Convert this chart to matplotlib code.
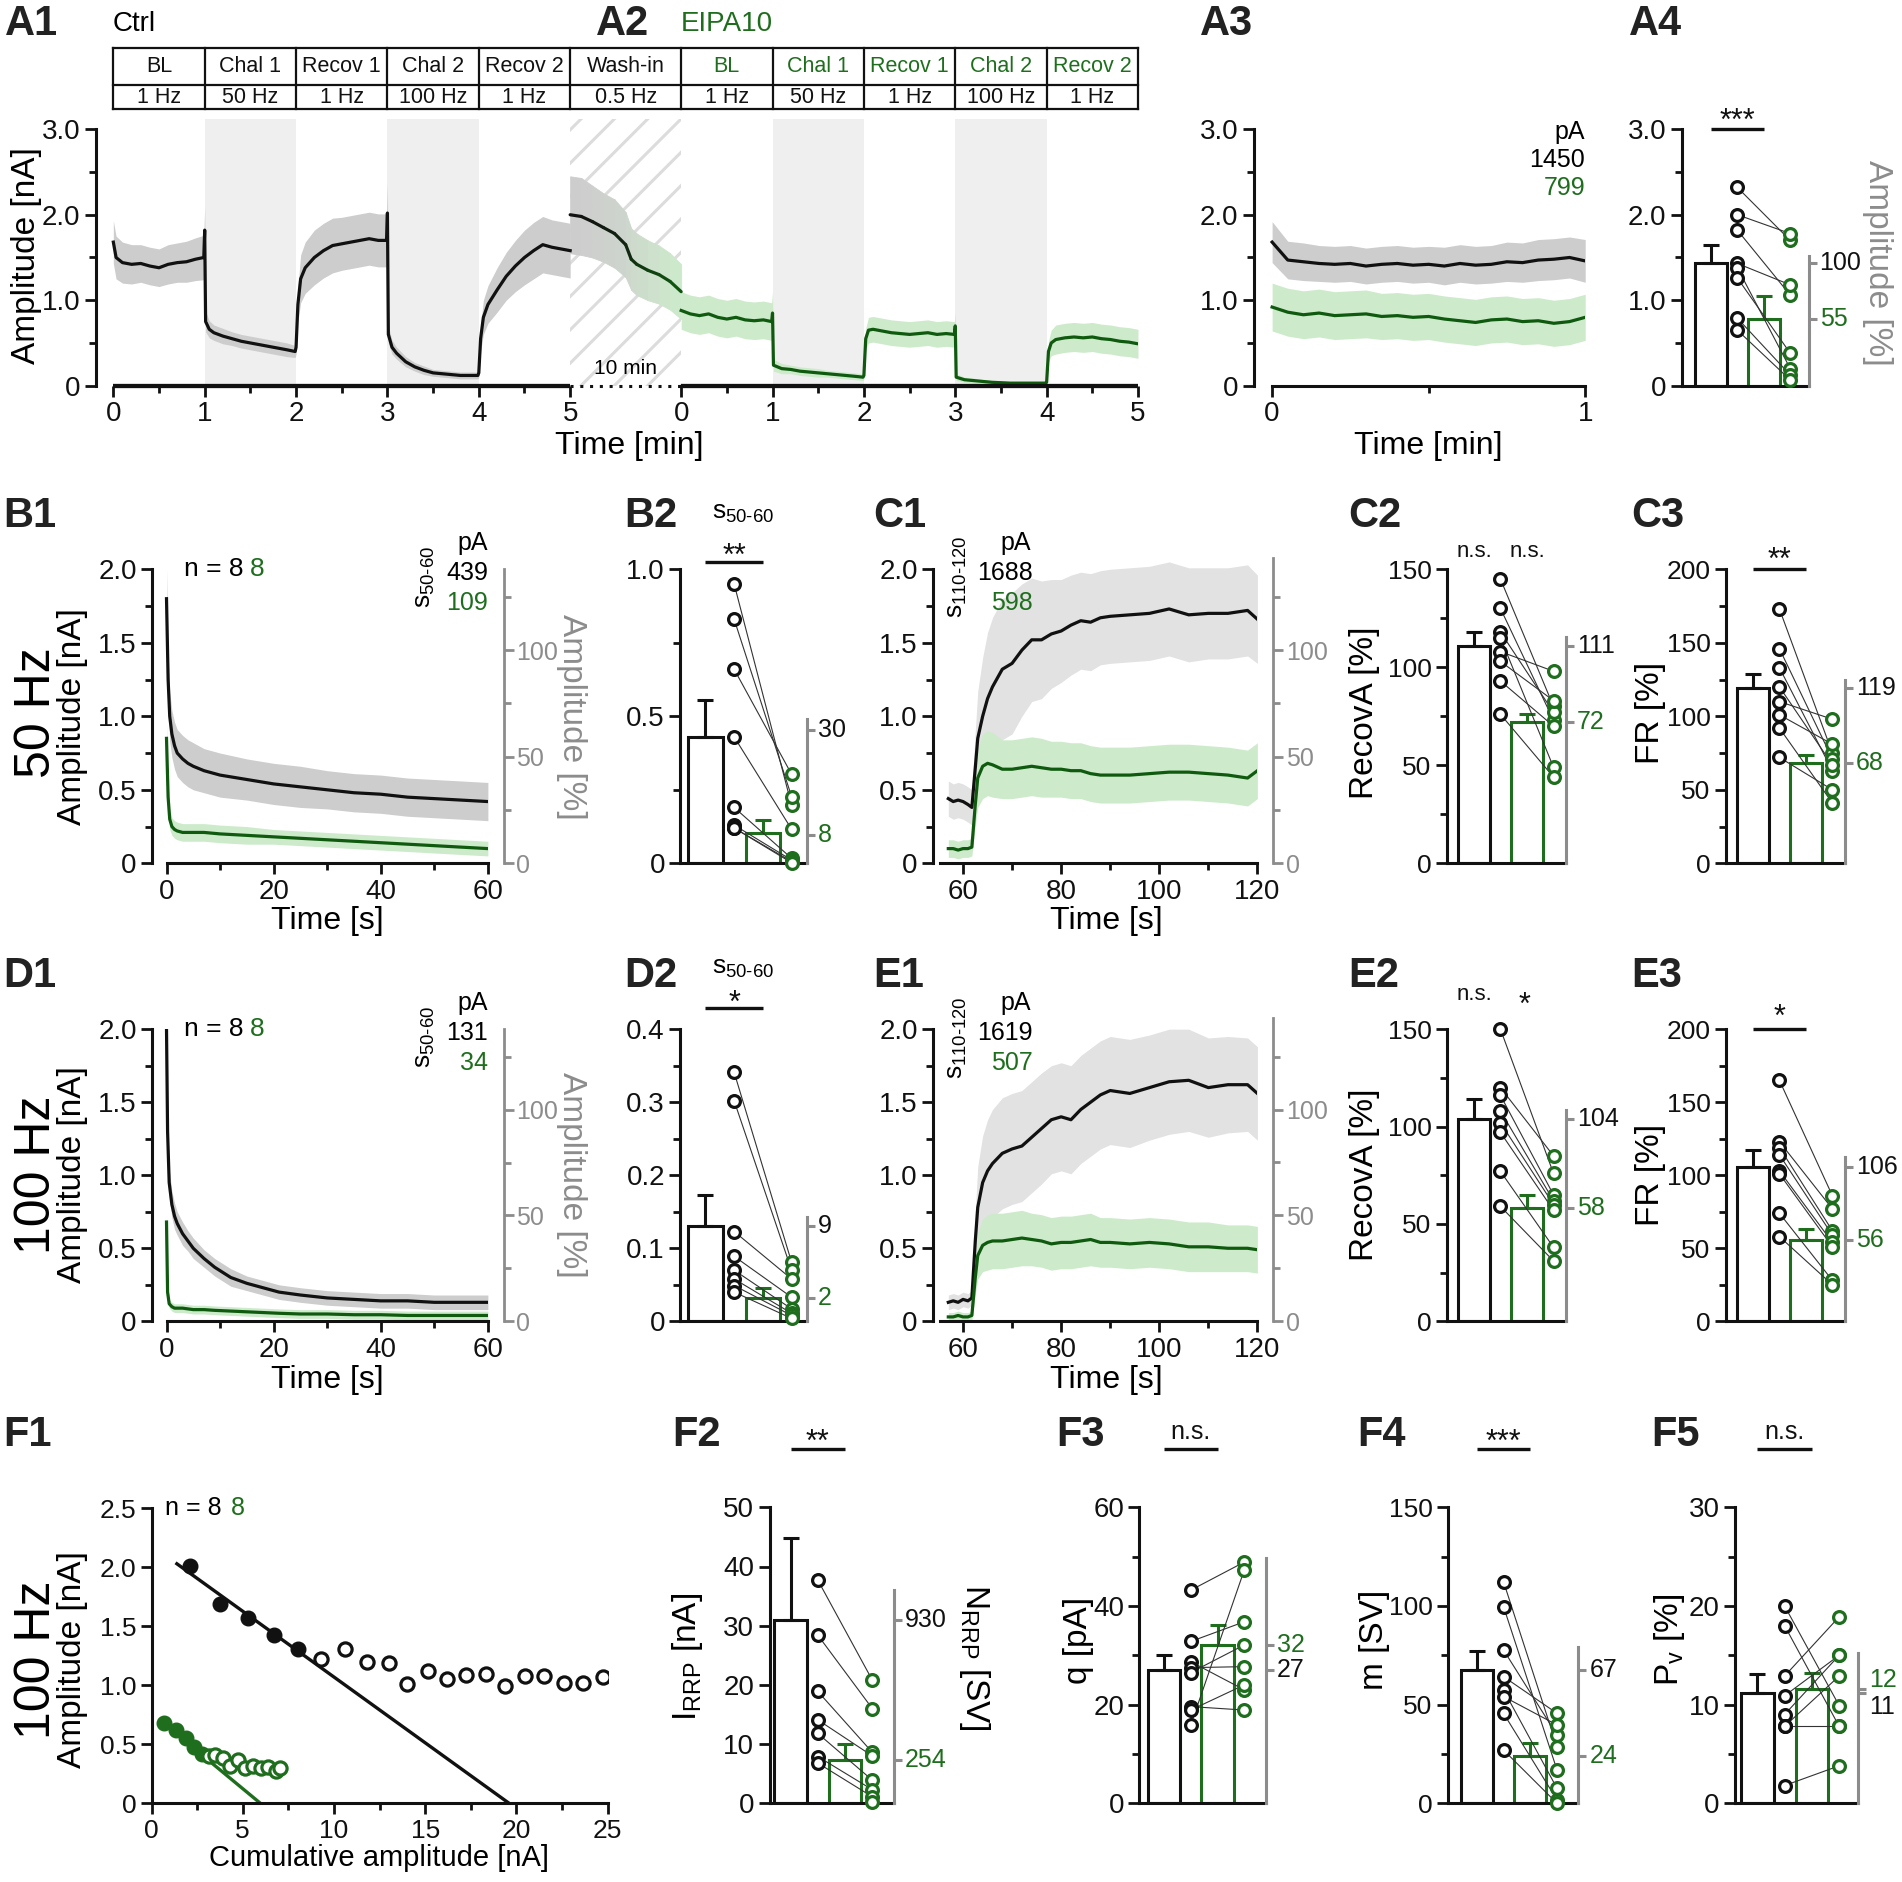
import numpy as np
import matplotlib
matplotlib.use('Agg')
import matplotlib.pyplot as plt
import matplotlib.transforms as mtransforms
from matplotlib.colors import to_rgb

W, H, DPI = 1902, 1882, 100

# ============================ DATA ============================
BASELINE_NA = 1.45          # ctrl baseline amplitude (1450 pA) = 100 %

# ---- A1 / A2 : full protocol time course (min, nA) ----
A1_CTRL_T = [0, 0.03, 0.1, 0.2, 0.3, 0.4, 0.5, 0.6, 0.7, 0.8, 0.9, 0.99,
             1.0, 1.01, 1.05, 1.1, 1.2, 1.3, 1.4, 1.5, 1.6, 1.7, 1.8, 1.9, 1.99,
             2.0, 2.02, 2.05, 2.1, 2.2, 2.3, 2.4, 2.5, 2.6, 2.7, 2.8, 2.9, 2.99,
             3.0, 3.01, 3.05, 3.1, 3.2, 3.3, 3.4, 3.5, 3.6, 3.7, 3.8, 3.9, 3.99,
             4.0, 4.02, 4.05, 4.1, 4.2, 4.3, 4.4, 4.5, 4.6, 4.7, 4.8, 4.9, 5.0]
A1_CTRL_M = [1.68, 1.50, 1.44, 1.42, 1.43, 1.40, 1.38, 1.42, 1.44, 1.45, 1.48, 1.50,
             1.82, 0.75, 0.66, 0.62, 0.58, 0.55, 0.52, 0.50, 0.48, 0.46, 0.44, 0.42, 0.40,
             0.45, 0.95, 1.25, 1.38, 1.50, 1.58, 1.64, 1.66, 1.68, 1.70, 1.72, 1.70, 1.70,
             2.02, 0.60, 0.45, 0.38, 0.28, 0.22, 0.18, 0.15, 0.14, 0.13, 0.12, 0.12, 0.12,
             0.15, 0.55, 0.80, 0.95, 1.12, 1.28, 1.40, 1.50, 1.58, 1.65, 1.62, 1.60, 1.58]
A1_CTRL_S = [0.25, 0.25, 0.24, 0.23, 0.22, 0.22, 0.22, 0.23, 0.23, 0.24, 0.25, 0.26,
             0.28, 0.12, 0.10, 0.09, 0.09, 0.08, 0.08, 0.08, 0.08, 0.08, 0.08, 0.08, 0.07,
             0.08, 0.20, 0.28, 0.30, 0.32, 0.32, 0.32, 0.31, 0.31, 0.31, 0.31, 0.31, 0.31,
             0.35, 0.10, 0.08, 0.07, 0.06, 0.05, 0.05, 0.04, 0.04, 0.04, 0.04, 0.04, 0.04,
             0.05, 0.15, 0.20, 0.22, 0.26, 0.28, 0.30, 0.32, 0.33, 0.33, 0.32, 0.32, 0.32]

WASH_T = [0, 1, 2, 3, 4, 5, 5.5, 6, 7, 8, 9, 10]          # min of the 10 min wash-in
WASH_M = [2.00, 1.98, 1.92, 1.85, 1.78, 1.65, 1.48, 1.42, 1.35, 1.30, 1.22, 1.10]
WASH_S = [0.45, 0.45, 0.42, 0.40, 0.40, 0.38, 0.36, 0.36, 0.35, 0.34, 0.33, 0.32]
WASH_MIN = 10

A2_EIPA_T = [0, 0.1, 0.2, 0.3, 0.4, 0.5, 0.6, 0.7, 0.8, 0.9, 0.99,
             1.0, 1.01, 1.1, 1.2, 1.3, 1.4, 1.5, 1.6, 1.7, 1.8, 1.9, 1.99,
             2.0, 2.02, 2.05, 2.1, 2.2, 2.3, 2.4, 2.5, 2.6, 2.7, 2.8, 2.9, 2.99,
             3.0, 3.01, 3.1, 3.2, 3.3, 3.4, 3.6, 3.8, 3.99,
             4.0, 4.02, 4.05, 4.1, 4.2, 4.3, 4.4, 4.5, 4.6, 4.7, 4.8, 4.9, 5.0]
A2_EIPA_M = [0.88, 0.84, 0.82, 0.84, 0.80, 0.78, 0.80, 0.77, 0.76, 0.77, 0.75,
             0.85, 0.24, 0.20, 0.19, 0.17, 0.16, 0.15, 0.14, 0.13, 0.12, 0.11, 0.10,
             0.12, 0.55, 0.65, 0.66, 0.64, 0.62, 0.61, 0.60, 0.61, 0.62, 0.60, 0.61, 0.60,
             0.70, 0.10, 0.07, 0.06, 0.05, 0.04, 0.03, 0.03, 0.03,
             0.04, 0.40, 0.50, 0.54, 0.56, 0.57, 0.56, 0.57, 0.55, 0.54, 0.52, 0.51, 0.49]
A2_EIPA_S = [0.22, 0.22, 0.22, 0.22, 0.22, 0.22, 0.22, 0.22, 0.22, 0.22, 0.22,
             0.25, 0.07, 0.06, 0.05, 0.05, 0.05, 0.05, 0.04, 0.04, 0.04, 0.04, 0.04,
             0.04, 0.12, 0.15, 0.15, 0.15, 0.15, 0.15, 0.15, 0.15, 0.15, 0.15, 0.15, 0.15,
             0.15, 0.04, 0.03, 0.03, 0.02, 0.02, 0.02, 0.02, 0.02,
             0.02, 0.12, 0.15, 0.17, 0.17, 0.17, 0.17, 0.17, 0.17, 0.17, 0.17, 0.17, 0.17]

TABLE_TOP = ['BL', 'Chal 1', 'Recov 1', 'Chal 2', 'Recov 2', 'Wash-in',
             'BL', 'Chal 1', 'Recov 1', 'Chal 2', 'Recov 2']
TABLE_BOT = ['1 Hz', '50 Hz', '1 Hz', '100 Hz', '1 Hz', '0.5 Hz',
             '1 Hz', '50 Hz', '1 Hz', '100 Hz', '1 Hz']
CHAL_PERIODS = [(1, 2), (3, 4)]

# ---- A3 : baseline (min, nA) ----
A3_T = [0, 0.05, 0.1, 0.15, 0.2, 0.25, 0.3, 0.35, 0.4, 0.45, 0.5,
        0.55, 0.6, 0.65, 0.7, 0.75, 0.8, 0.85, 0.9, 0.95, 1.0]
A3_CTRL_M = [1.68, 1.47, 1.45, 1.43, 1.42, 1.43, 1.40, 1.42, 1.43, 1.41, 1.42,
             1.40, 1.43, 1.41, 1.42, 1.45, 1.44, 1.47, 1.48, 1.50, 1.46]
A3_CTRL_S = [0.24, 0.22, 0.22, 0.21, 0.21, 0.21, 0.21, 0.21, 0.21, 0.21, 0.21,
             0.22, 0.22, 0.22, 0.22, 0.23, 0.23, 0.24, 0.24, 0.24, 0.25]
A3_EIPA_M = [0.92, 0.86, 0.83, 0.85, 0.82, 0.83, 0.84, 0.81, 0.82, 0.80, 0.81,
             0.78, 0.76, 0.74, 0.77, 0.78, 0.75, 0.76, 0.73, 0.75, 0.80]
A3_EIPA_S = [0.28, 0.28, 0.28, 0.28, 0.28, 0.28, 0.28, 0.27, 0.27, 0.27, 0.27,
             0.27, 0.27, 0.27, 0.27, 0.27, 0.27, 0.27, 0.27, 0.27, 0.27]

# ---- A4 : baseline amplitude (nA) ----
A4_CTRL = [2.32, 2.00, 1.82, 1.43, 1.38, 1.26, 0.79, 0.65]
A4_EIPA = [1.70, 1.78, 1.06, 1.18, 0.20, 0.38, 0.125, 0.067]
A4_BAR = [1.43, 0.78]
A4_SEM = [0.22, 0.27]

# ---- B1 / D1 : challenge trains (s, nA) ----
B1_T = [0, 0.3, 0.6, 1, 1.5, 2, 3, 4, 5, 7, 10, 15, 20, 25, 30, 35, 40, 45, 50, 55, 60]
B1_CTRL_M = [1.80, 1.25, 1.00, 0.88, 0.80, 0.75, 0.71, 0.68, 0.66, 0.63, 0.60,
             0.57, 0.54, 0.52, 0.50, 0.48, 0.47, 0.45, 0.44, 0.43, 0.42]
B1_CTRL_S = [0.20, 0.18, 0.17, 0.16, 0.16, 0.16, 0.16, 0.16, 0.16, 0.15, 0.15,
             0.14, 0.14, 0.14, 0.13, 0.13, 0.13, 0.13, 0.13, 0.13, 0.13]
B1_EIPA_M = [0.85, 0.45, 0.30, 0.25, 0.23, 0.22, 0.21, 0.21, 0.21, 0.21, 0.20,
             0.19, 0.18, 0.17, 0.16, 0.15, 0.14, 0.13, 0.12, 0.11, 0.10]
B1_EIPA_S = [0.10, 0.08, 0.07, 0.06, 0.06, 0.06, 0.06, 0.06, 0.06, 0.06, 0.06,
             0.06, 0.05, 0.05, 0.05, 0.05, 0.05, 0.05, 0.05, 0.05, 0.05]

D1_T = [0, 0.2, 0.5, 1, 1.5, 2, 3, 4, 5, 7, 9, 12, 15, 18, 21, 25, 30, 35, 40, 45, 50, 55, 60]
D1_CTRL_M = [2.00, 1.30, 0.95, 0.80, 0.72, 0.67, 0.60, 0.55, 0.50, 0.43, 0.37, 0.30,
             0.26, 0.23, 0.20, 0.18, 0.16, 0.15, 0.14, 0.14, 0.13, 0.13, 0.13]
D1_CTRL_S = [0.10, 0.10, 0.10, 0.09, 0.09, 0.08, 0.08, 0.07, 0.07, 0.06, 0.06, 0.06,
             0.05, 0.05, 0.05, 0.05, 0.05, 0.05, 0.05, 0.05, 0.05, 0.05, 0.05]
D1_EIPA_M = [0.68, 0.20, 0.12, 0.10, 0.09, 0.09, 0.09, 0.085, 0.08, 0.08, 0.075, 0.07,
             0.065, 0.06, 0.055, 0.05, 0.05, 0.045, 0.045, 0.04, 0.04, 0.04, 0.04]
D1_EIPA_S = [0.04, 0.03, 0.03, 0.03, 0.03, 0.03, 0.03, 0.03, 0.03, 0.03, 0.03, 0.03,
             0.03, 0.03, 0.03, 0.03, 0.03, 0.03, 0.03, 0.03, 0.03, 0.03, 0.03]

# ---- C1 / E1 : recovery (s, nA) ----
REC_T = [57, 58, 59, 60, 61, 61.8, 62.5, 63, 64, 65, 66, 68, 70, 72, 74, 76, 78, 80,
         82, 84, 86, 88, 90, 94, 98, 102, 106, 110, 114, 118, 120]
C1_CTRL_M = [0.44, 0.42, 0.43, 0.42, 0.40, 0.38, 0.65, 0.85, 1.00, 1.12, 1.20, 1.32, 1.36,
             1.45, 1.52, 1.52, 1.56, 1.58, 1.62, 1.65, 1.64, 1.67, 1.68, 1.69, 1.70, 1.73,
             1.69, 1.70, 1.70, 1.72, 1.66]
C1_CTRL_S = [0.12, 0.12, 0.12, 0.12, 0.12, 0.12, 0.25, 0.32, 0.40, 0.45, 0.47, 0.48, 0.48,
             0.45, 0.42, 0.40, 0.37, 0.35, 0.34, 0.33, 0.33, 0.32, 0.32, 0.32, 0.32, 0.32,
             0.32, 0.31, 0.31, 0.31, 0.30]
C1_EIPA_M = [0.10, 0.10, 0.09, 0.10, 0.10, 0.11, 0.40, 0.58, 0.66, 0.68, 0.67, 0.64, 0.64,
             0.65, 0.66, 0.65, 0.64, 0.64, 0.63, 0.63, 0.61, 0.60, 0.60, 0.60, 0.61, 0.62,
             0.62, 0.61, 0.60, 0.58, 0.63]
C1_EIPA_S = [0.06, 0.06, 0.06, 0.06, 0.06, 0.06, 0.15, 0.20, 0.22, 0.22, 0.22, 0.20, 0.20,
             0.20, 0.20, 0.20, 0.19, 0.19, 0.19, 0.19, 0.19, 0.19, 0.19, 0.19, 0.19, 0.19,
             0.19, 0.19, 0.19, 0.19, 0.19]
E1_CTRL_M = [0.13, 0.14, 0.13, 0.15, 0.14, 0.16, 0.55, 0.78, 0.95, 1.03, 1.08, 1.15, 1.18,
             1.20, 1.26, 1.32, 1.38, 1.40, 1.38, 1.45, 1.50, 1.55, 1.58, 1.56, 1.60, 1.64,
             1.65, 1.60, 1.62, 1.62, 1.56]
E1_CTRL_S = [0.05, 0.05, 0.05, 0.05, 0.05, 0.05, 0.20, 0.28, 0.32, 0.35, 0.37, 0.38, 0.38,
             0.38, 0.38, 0.38, 0.37, 0.37, 0.37, 0.37, 0.37, 0.37, 0.37, 0.37, 0.36, 0.36,
             0.35, 0.34, 0.33, 0.32, 0.32]
E1_EIPA_M = [0.03, 0.03, 0.04, 0.03, 0.03, 0.04, 0.30, 0.45, 0.52, 0.54, 0.55, 0.55, 0.56,
             0.57, 0.56, 0.55, 0.53, 0.54, 0.54, 0.55, 0.56, 0.54, 0.54, 0.53, 0.54, 0.53,
             0.51, 0.51, 0.50, 0.50, 0.49]
E1_EIPA_S = [0.03, 0.03, 0.03, 0.03, 0.03, 0.03, 0.12, 0.16, 0.18, 0.19, 0.19, 0.19, 0.19,
             0.19, 0.18, 0.18, 0.18, 0.18, 0.18, 0.18, 0.18, 0.17, 0.17, 0.17, 0.17, 0.17,
             0.17, 0.17, 0.16, 0.16, 0.16]

# ---- bar panels: individual cells (ctrl -> EIPA pairs), bar = mean, sem ----
B2_CTRL = [0.95, 0.83, 0.66, 0.43, 0.19, 0.13, 0.12, 0.12]
B2_EIPA = [0.198, 0.227, 0.303, 0.116, 0.017, 0.011, 0.006, 0.002]
B2_BAR, B2_SEM = [0.431, 0.102], [0.125, 0.045]
C2_CTRL = [145, 130, 118, 115, 108, 103, 93, 76]
C2_EIPA = [80, 73, 77, 49, 98, 83, 70, 44]
C2_BAR, C2_SEM = [111, 72], [7, 4]
C3_CTRL = [173, 146, 133, 120, 110, 101, 92, 72]
C3_EIPA = [75, 71, 63, 67, 98, 81, 41, 50]
C3_BAR, C3_SEM = [119, 68], [10, 6]
D2_CTRL = [0.341, 0.302, 0.123, 0.089, 0.070, 0.058, 0.049, 0.040]
D2_EIPA = [0.081, 0.070, 0.058, 0.033, 0.017, 0.011, 0.008, 0.004]
D2_BAR, D2_SEM = [0.130, 0.032], [0.043, 0.013]
E2_CTRL = [150, 120, 116, 108, 102, 97, 77, 59]
E2_EIPA = [76, 85, 65, 62, 60, 57, 38, 31]
E2_BAR, E2_SEM = [104, 58], [10, 7]
E3_CTRL = [165, 123, 119, 114, 103, 101, 74, 58]
E3_EIPA = [86, 77, 62, 59, 54, 51, 28, 25]
E3_BAR, E3_SEM = [106, 56], [11, 7]
F2_CTRL = [37.7, 28.4, 18.9, 14.1, 11.8, 7.9, 6.8]
F2_EIPA = [20.8, 16.0, 8.6, 8.0, 3.9, 2.3, 1.1, 0.2]
F2_BAR, F2_SEM = [31.0, 7.3], [13.8, 2.8]
F3_CTRL = [43.2, 32.8, 28.7, 27.5, 26.5, 19.6, 18.9, 15.9]
F3_EIPA = [48.9, 36.8, 23.0, 27.7, 32.1, 18.9, 24.0, 47.3]
F3_BAR, F3_SEM = [27.0, 32.1], [3.0, 4.0]
F4_CTRL = [112.3, 99.7, 77.7, 64.2, 57.4, 54.1, 45.6, 27.0]
F4_EIPA = [28.7, 16.9, 34.6, 45.6, 7.6, 39.7, 1.7, 0.0]
F4_BAR, F4_SEM = [67.5, 24.0], [9.9, 6.4]
F5_CTRL = [20.0, 18.0, 12.9, 10.9, 9.0, 7.8, 7.8, 1.8]
F5_EIPA = [9.9, 7.8, 18.9, 15.0, 15.0, 12.9, 7.8, 3.8]
F5_BAR, F5_SEM = [11.15, 11.55], [1.95, 1.65]

# ---- F1 : back-extrapolation (cumulative nA vs nA) ----
F1_CTRL_FIT_X = [2.09, 3.75, 5.31, 6.71, 8.03]
F1_CTRL_FIT_Y = [2.01, 1.69, 1.57, 1.43, 1.31]
F1_CTRL_X = [9.3, 10.62, 11.79, 13.0, 14.0, 15.14, 16.2, 17.26, 18.33, 19.36,
             20.45, 21.5, 22.58, 23.64, 24.73]
F1_CTRL_Y = [1.22, 1.31, 1.20, 1.19, 1.01, 1.12, 1.05, 1.09, 1.10, 0.99,
             1.08, 1.08, 1.02, 1.02, 1.07]
F1_EIPA_FIT_X = [0.66, 1.33, 1.89, 2.32, 2.76]
F1_EIPA_FIT_Y = [0.68, 0.62, 0.55, 0.48, 0.42]
F1_EIPA_X = [3.15, 3.49, 3.92, 4.32, 4.75, 5.15, 5.58, 5.98, 6.41, 6.81, 7.04]
F1_EIPA_Y = [0.40, 0.41, 0.38, 0.32, 0.37, 0.30, 0.32, 0.30, 0.31, 0.27, 0.30]
F1_CTRL_LINE = (-0.1115, 2.185, 1.39)   # slope, intercept, start x
F1_EIPA_LINE = (-0.128, 0.764, 0.66)

# ============================ STYLE ============================
plt.rcParams['font.family'] = ['Liberation Sans', 'DejaVu Sans']
plt.rcParams['mathtext.fontset'] = 'custom'
plt.rcParams['mathtext.rm'] = 'Liberation Sans'
plt.rcParams['mathtext.it'] = 'Liberation Sans:italic'
plt.rcParams['mathtext.bf'] = 'Liberation Sans:bold'
plt.rcParams['hatch.linewidth'] = 2.2

BLACK = '#111111'
GREEN = '#1e6e1e'
GREEN_LINE = '#0f5a0f'
GREEN_BAND = '#cdebcb'
GRAY_BAND = '#cdcdcd'
GRAY_BAND2 = '#e2e2e2'
SHADE = '#efefef'
AXGRAY = '#8c8c8c'
SPINE_LW = 2.2
TICK_FS = 20
LABEL_FS = 24
PANEL_FS = 30
TRACE_LW = 2.3
AST_FS = 22

fig = plt.figure(figsize=(W / DPI, H / DPI), dpi=DPI)


def ftext(x, y, s, **kw):
    kw.setdefault('ha', 'center')
    kw.setdefault('va', 'center')
    return fig.text(x / W, 1 - y / H, s, **kw)


def panel(x, y, s):
    ftext(x, y, s, ha='left', fontsize=PANEL_FS, fontweight='bold', color='#222222')


def add_ax(x0, x1, ytop, ybot, tick_fs=TICK_FS):
    ax = fig.add_axes([x0 / W, 1 - ybot / H, (x1 - x0) / W, (ybot - ytop) / H])
    ax.patch.set_alpha(0)
    for s in ('top', 'right'):
        ax.spines[s].set_visible(False)
    for s in ('left', 'bottom'):
        ax.spines[s].set_linewidth(SPINE_LW)
        ax.spines[s].set_color(BLACK)
    ax.tick_params(which='major', length=8, width=2, labelsize=tick_fs, colors=BLACK, pad=3)
    ax.tick_params(which='minor', length=5, width=2, colors=BLACK)
    return ax


def trace(ax, t, m, s, lc, bc, lw=TRACE_LW):
    t, m, s = np.asarray(t, float), np.asarray(m, float), np.asarray(s, float)
    ax.fill_between(t, m - s, m + s, color=bc, lw=0, zorder=1)
    ax.plot(t, m, color=lc, lw=lw, zorder=3, solid_joinstyle='round')


def set_yticks(ax, ticks, labels, minor=None):
    ax.set_yticks(ticks)
    ax.set_yticklabels(labels)
    if minor is not None:
        ax.set_yticks(minor, minor=True)


def pct_axis(ax, top_na):
    ax2 = ax.twinx()
    lo, hi = ax.get_ylim()
    ax2.set_ylim(lo / BASELINE_NA * 100, hi / BASELINE_NA * 100)
    for s in ('top', 'left', 'bottom'):
        ax2.spines[s].set_visible(False)
    sp = ax2.spines['right']
    sp.set_position(('outward', 11.5))
    sp.set_bounds(0, top_na / BASELINE_NA * 100)
    sp.set_color(AXGRAY)
    sp.set_linewidth(2)
    ax2.set_yticks([0, 50, 100])
    ax2.set_yticklabels(['0', '50', '100'])
    ax2.set_yticks([25, 75, 125], minor=True)
    ax2.tick_params(which='major', length=7, width=2, colors=AXGRAY, labelsize=18, pad=2)
    ax2.tick_params(which='minor', length=5, width=2, colors=AXGRAY)
    return ax2


def sig(ax, text, y_line, y_text, fs=AST_FS, line=True, xs=(0.5,)):
    tr = mtransforms.blended_transform_factory(ax.transData, fig.transFigure)
    if line:
        ax.plot([0, 1], [1 - y_line / H] * 2, transform=tr, color=BLACK, lw=2.4,
                clip_on=False, solid_capstyle='butt')
    for xv in xs:
        ax.text(xv, 1 - y_text / H, text, transform=tr, ha='center', va='center',
                fontsize=fs, color=BLACK)


def bar_panel(px, xlim, ylim, ticks, labels, minor, ctrl, eipa, bar, sem,
              right_top, right_ticks, right_labels, right_colors, right_dy=(0, 0),
              tick_fs=TICK_FS):
    ax = add_ax(*px, tick_fs=tick_fs)
    ax.set_xlim(*xlim)
    ax.set_ylim(*ylim)
    ax.spines['left'].set_bounds(0, ticks[-1])
    ax.set_xticks([])
    set_yticks(ax, ticks, labels, minor)
    ax.bar([0], [bar[0]], width=0.6, facecolor='white', edgecolor=BLACK, lw=2.2, zorder=2)
    ax.bar([1], [bar[1]], width=0.6, facecolor='none', edgecolor=GREEN, lw=2.2, zorder=2)
    ax.errorbar([0], [bar[0]], yerr=[[0], [sem[0]]], color=BLACK, lw=2.2, capsize=6,
                capthick=2.2, zorder=2)
    ax.errorbar([1], [bar[1]], yerr=[[0], [sem[1]]], color=GREEN, lw=2.2, capsize=6,
                capthick=2.2, zorder=2)
    for c, g in zip(ctrl, eipa):
        ax.plot([0.5, 1.5], [c, g], color='#333333', lw=0.8, zorder=3)
    ax.plot(np.full(len(ctrl), 0.5), ctrl, 'o', ms=8.5, mfc='white', mec=BLACK, mew=2.3,
            zorder=4, clip_on=False, ls='none')
    ax.plot(np.full(len(eipa), 1.5), eipa, 'o', ms=8.5, mfc='white', mec=GREEN, mew=2.3,
            zorder=4, clip_on=False, ls='none')
    ax2 = ax.twinx()
    ax2.set_ylim(*ylim)
    for s in ('top', 'left', 'bottom'):
        ax2.spines[s].set_visible(False)
    sp = ax2.spines['right']
    sp.set_bounds(0, right_top)
    sp.set_color(AXGRAY)
    sp.set_linewidth(2.2)
    ax2.set_yticks(right_ticks)
    ax2.set_yticklabels([])
    ax2.tick_params(length=6, width=2.2, colors=AXGRAY)
    for v, l, c, d in zip(right_ticks, right_labels, right_colors, right_dy):
        ax2.annotate(l, xy=(1, v), xycoords=('axes fraction', 'data'), xytext=(8, d),
                     textcoords='offset points', ha='left', va='center', color=c, fontsize=18)
    return ax


# ============================ ROW A ============================
GAP = 1.215                      # width of the 10-min wash-in gap in axis units
A2_OFF = 5 + GAP
axA = add_ax(95.7, 1138, 118.6, 385.7)
axA.set_xlim(-0.193, A2_OFF + 5)
axA.set_ylim(0, 3.125)
axA.spines['left'].set_bounds(0, 3)
axA.spines['bottom'].set_visible(False)
for a, b in CHAL_PERIODS:
    axA.axvspan(a, b, color=SHADE, lw=0, zorder=0)
    axA.axvspan(A2_OFF + a, A2_OFF + b, color=SHADE, lw=0, zorder=0)
axA.axvspan(5, A2_OFF, facecolor='none', edgecolor='#dcdcdc', hatch='/', lw=0, zorder=0)

trace(axA, A1_CTRL_T, A1_CTRL_M, A1_CTRL_S, BLACK, GRAY_BAND)
trace(axA, np.asarray(A2_EIPA_T) + A2_OFF, A2_EIPA_M, A2_EIPA_S, GREEN_LINE, GREEN_BAND)

# wash-in: colour fades from ctrl (gray/black) to EIPA (green)
xw = 5 + np.asarray(WASH_T, float) / WASH_MIN * GAP
mw, sw = np.asarray(WASH_M), np.asarray(WASH_S)
g0, g1 = np.array(to_rgb(GRAY_BAND)), np.array(to_rgb(GREEN_BAND))
l0, l1 = np.array(to_rgb(BLACK)), np.array(to_rgb(GREEN_LINE))
nseg = len(xw) - 1
for i in range(nseg):
    f = ((i + 0.5) / nseg) ** 1.6
    bc = tuple(g0 * (1 - f) + g1 * f)
    axA.fill_between(xw[i:i + 2], (mw - sw)[i:i + 2], (mw + sw)[i:i + 2], color=bc,
                     lw=0.6, edgecolor=bc, zorder=1)
for i in range(nseg):
    f = ((i + 0.5) / nseg) ** 1.6
    axA.plot(xw[i:i + 2], mw[i:i + 2], color=tuple(l0 * (1 - f) + l1 * f),
             lw=TRACE_LW, zorder=3, solid_capstyle='round')

axA.plot([0, 5], [0, 0], color=BLACK, lw=SPINE_LW * 1.4, clip_on=False, zorder=5,
         solid_capstyle='butt')
axA.plot([A2_OFF, A2_OFF + 5], [0, 0], color=BLACK, lw=SPINE_LW * 1.4, clip_on=False,
         zorder=5, solid_capstyle='butt')
axA.plot([5, A2_OFF], [0, 0], color=BLACK, lw=SPINE_LW, ls=(0, (1, 2.2)), clip_on=False,
         zorder=5)
minutes = [0, 1, 2, 3, 4, 5]
axA.set_xticks(minutes + [A2_OFF + m for m in minutes])
axA.set_xticklabels([str(m) for m in minutes] * 2)
axA.set_xticks([m + 0.5 for m in minutes[:-1]] + [A2_OFF + m + 0.5 for m in minutes[:-1]],
               minor=True)
set_yticks(axA, [0, 1, 2, 3], ['0', '1.0', '2.0', '3.0'], [0.5, 1.5, 2.5])
axA.text((5 + A2_OFF) / 2, 0.2, '10 min', ha='center', va='center', fontsize=15)

# protocol table
axT = fig.add_axes([113.3 / W, 1 - 109 / H, (1138 - 113.3) / W, (109 - 48.3) / H])
axT.set_xlim(0, A2_OFF + 5)
axT.set_ylim(0, 1)
axT.axis('off')
edges = minutes + [A2_OFF + m for m in minutes]
MID = 0.395
for yv in (0, MID, 1):
    axT.plot([0, A2_OFF + 5], [yv, yv], color=BLACK, lw=1.6, clip_on=False)
for xv in edges:
    axT.plot([xv, xv], [0, 1], color=BLACK, lw=1.6, clip_on=False)
for i, (top, bot) in enumerate(zip(TABLE_TOP, TABLE_BOT)):
    xc = (edges[i] + edges[i + 1]) / 2
    axT.text(xc, (1 + MID) / 2, top, ha='center', va='center', fontsize=15.5,
             color=BLACK if i < 6 else GREEN)
    axT.text(xc, MID / 2, bot, ha='center', va='center', fontsize=15.5, color=BLACK)

panel(5, 24, 'A1')
ftext(113, 24, 'Ctrl', ha='left', fontsize=20)
panel(596, 24, 'A2')
ftext(681, 24, 'EIPA10', ha='left', fontsize=20, color=GREEN)
ftext(27, 256, 'Amplitude [nA]', rotation=90, fontsize=LABEL_FS)
ftext(629, 446, 'Time [min]', fontsize=23)

# A3
axA3 = add_ax(1253.7, 1585.2, 118.6, 385.7)
axA3.set_xlim(-0.0588, 1.0)
axA3.set_ylim(0, 3.125)
axA3.spines['left'].set_bounds(0, 3)
axA3.spines['bottom'].set_bounds(0, 1)
trace(axA3, A3_T, A3_CTRL_M, A3_CTRL_S, BLACK, GRAY_BAND)
trace(axA3, A3_T, A3_EIPA_M, A3_EIPA_S, GREEN_LINE, GREEN_BAND)
axA3.set_xticks([0, 1])
axA3.set_xticks([0.5], minor=True)
set_yticks(axA3, [0, 1, 2, 3], ['0', '1.0', '2.0', '3.0'], [0.5, 1.5, 2.5])
panel(1200, 24, 'A3')
ftext(1585, 131.7, 'pA', ha='right', fontsize=18)
ftext(1585, 160, '1450', ha='right', fontsize=18)
ftext(1585, 188, '799', ha='right', fontsize=18, color=GREEN)
ftext(1428.6, 446, 'Time [min]', fontsize=23)

# A4
axA4 = bar_panel((1681.8, 1808.5, 118.6, 385.7), (-0.55, 1.845), (0, 3.125),
                 [0, 1, 2, 3], ['0', '1.0', '2.0', '3.0'], [0.5, 1.5, 2.5],
                 A4_CTRL, A4_EIPA, A4_BAR, A4_SEM, 1.52, A4_BAR, ['100', '55'],
                 [BLACK, GREEN])
sig(axA4, '***', 129.3, 122)
panel(1629, 24, 'A4')
ftext(1878, 263, 'Amplitude [%]', rotation=270, fontsize=LABEL_FS, color=AXGRAY)

# ============================ ROWS B-E ============================
def train_panel(ytop, ybot, t, cm, cs, em, es, n_y, pa_y, vals, label_y):
    ax = add_ax(152.1, 487.9, ytop, ybot)
    ax.set_xlim(-2.69, 60)
    ax.set_ylim(0, 2.0)
    ax.spines['bottom'].set_bounds(0, 60)
    trace(ax, t, cm, cs, BLACK, GRAY_BAND)
    trace(ax, t, em, es, GREEN_LINE, GREEN_BAND)
    ax.set_xticks([0, 20, 40, 60])
    ax.set_xticks([10, 30, 50], minor=True)
    set_yticks(ax, [0, 0.5, 1.0, 1.5, 2.0], ['0', '0.5', '1.0', '1.5', '2.0'],
               [0.25, 0.75, 1.25, 1.75])
    pct_axis(ax, 2.0)
    ftext(183.7, n_y, 'n = 8', ha='left', fontsize=19)
    ftext(250, n_y, '8', ha='left', fontsize=19, color=GREEN)
    ftext(488, pa_y, 'pA', ha='right', fontsize=18)
    ftext(488, pa_y + 30, vals[0], ha='right', fontsize=18)
    ftext(488, pa_y + 60, vals[1], ha='right', fontsize=18, color=GREEN)
    ftext(425, pa_y + 34, r's$_{\mathrm{50\text{-}60}}$', rotation=90, fontsize=19)
    ftext(72, label_y, 'Amplitude [nA]', rotation=90, fontsize=LABEL_FS)
    ftext(571, label_y, 'Amplitude [%]', rotation=270, fontsize=LABEL_FS, color=AXGRAY)
    return ax


def recov_panel(ytop, ybot, cm, cs, em, es, pa_y, vals):
    ax = add_ax(933.1, 1257.4, ytop, ybot)
    ax.set_xlim(53.9, 120)
    ax.set_ylim(0, 2.08)
    ax.spines['left'].set_bounds(0, 2.0)
    ax.spines['bottom'].set_bounds(55.3, 120)
    trace(ax, REC_T, cm, cs, BLACK, GRAY_BAND2)
    trace(ax, REC_T, em, es, GREEN_LINE, GREEN_BAND)
    ax.set_xticks([60, 80, 100, 120])
    ax.set_xticks([70, 90, 110], minor=True)
    set_yticks(ax, [0, 0.5, 1.0, 1.5, 2.0], ['0', '0.5', '1.0', '1.5', '2.0'],
               [0.25, 0.75, 1.25, 1.75])
    pct_axis(ax, 2.08)
    ftext(1016, pa_y, 'pA', ha='center', fontsize=18)
    ftext(1005, pa_y + 30, vals[0], ha='center', fontsize=18)
    ftext(1012, pa_y + 60, vals[1], ha='center', fontsize=18, color=GREEN)
    ftext(957, pa_y + 34, r's$_{\mathrm{110\text{-}120}}$', rotation=90, fontsize=19)
    return ax


# ---- row B/C (50 Hz)
axB1 = train_panel(569.3, 863.3, B1_T, B1_CTRL_M, B1_CTRL_S, B1_EIPA_M, B1_EIPA_S,
                   569, 543, ('439', '109'), 717)
panel(3, 516, 'B1')
ftext(327, 921, 'Time [s]', fontsize=23)
ftext(37, 713, '50 Hz', rotation=90, fontsize=36)

axB2 = bar_panel((680.2, 806.5, 569.3, 863.3), (-0.44, 1.76), (0, 1.0),
                 [0, 0.5, 1.0], ['0', '0.5', '1.0'], [0.25, 0.75],
                 B2_CTRL, B2_EIPA, B2_BAR, B2_SEM, 0.49, [0.455, 0.095], ['30', '8'],
                 [BLACK, GREEN])
sig(axB2, '**', 561.7, 557)
panel(624, 516, 'B2')
ftext(743, 513, r's$_{\mathrm{50\text{-}60}}$', fontsize=19)

axC1 = recov_panel(557.5, 863.3, C1_CTRL_M, C1_CTRL_S, C1_EIPA_M, C1_EIPA_S, 543,
                   ('1688', '598'))
panel(873, 516, 'C1')
ftext(1106, 921, 'Time [s]', fontsize=23)

axC2 = bar_panel((1446.8, 1565.8, 569.3, 863.3), (-0.513, 1.732), (0, 150),
                 [0, 50, 100, 150], ['0', '50', '100', '150'], [25, 75, 125],
                 C2_CTRL, C2_EIPA, C2_BAR, C2_SEM, 115.6, C2_BAR, ['111', '72'],
                 [BLACK, GREEN], tick_fs=19)
sig(axC2, 'n.s.', 0, 551.7, fs=16, line=False, xs=(0, 1))
panel(1348, 516, 'C2')
ftext(1365, 713, 'RecovA [%]', rotation=90, fontsize=LABEL_FS)

axC3 = bar_panel((1725.9, 1844.9, 569.3, 863.3), (-0.511, 1.736), (0, 200),
                 [0, 50, 100, 150, 200], ['0', '50', '100', '150', '200'],
                 [25, 75, 125, 175], C3_CTRL, C3_EIPA, C3_BAR, C3_SEM, 124.5, C3_BAR,
                 ['119', '68'], [BLACK, GREEN], tick_fs=19)
sig(axC3, '**', 569.3, 561)
panel(1631, 516, 'C3')
ftext(1651, 713, 'FR [%]', rotation=90, fontsize=LABEL_FS)

# ---- row D/E (100 Hz)
axD1 = train_panel(1029.3, 1321.3, D1_T, D1_CTRL_M, D1_CTRL_S, D1_EIPA_M, D1_EIPA_S,
                   1029.3, 1003.3, ('131', '34'), 1175)
panel(3, 976, 'D1')
ftext(327, 1380, 'Time [s]', fontsize=23)
ftext(37, 1175, '100 Hz', rotation=90, fontsize=36)

axD2 = bar_panel((680.2, 806.5, 1029.3, 1321.3), (-0.44, 1.76), (0, 0.4),
                 [0, 0.1, 0.2, 0.3, 0.4], ['0', '0.1', '0.2', '0.3', '0.4'],
                 [0.05, 0.15, 0.25, 0.35], D2_CTRL, D2_EIPA, D2_BAR, D2_SEM, 0.143,
                 D2_BAR, ['9', '2'], [BLACK, GREEN])
sig(axD2, '*', 1008.3, 1004)
panel(624, 976, 'D2')
ftext(743, 968, r's$_{\mathrm{50\text{-}60}}$', fontsize=19)

axE1 = recov_panel(1017.5, 1321.3, E1_CTRL_M, E1_CTRL_S, E1_EIPA_M, E1_EIPA_S, 1003.3,
                   ('1619', '507'))
panel(873, 976, 'E1')
ftext(1106, 1380, 'Time [s]', fontsize=23)

axE2 = bar_panel((1446.8, 1565.8, 1029.3, 1321.3), (-0.513, 1.732), (0, 150),
                 [0, 50, 100, 150], ['0', '50', '100', '150'], [25, 75, 125],
                 E2_CTRL, E2_EIPA, E2_BAR, E2_SEM, 108.5, E2_BAR, ['104', '58'],
                 [BLACK, GREEN], tick_fs=19)
sig(axE2, 'n.s.', 0, 995, fs=16, line=False, xs=(0,))
sig(axE2, '*', 0, 1006, line=False, xs=(0.95,))
panel(1348, 976, 'E2')
ftext(1365, 1175, 'RecovA [%]', rotation=90, fontsize=LABEL_FS)

axE3 = bar_panel((1725.9, 1844.9, 1029.3, 1321.3), (-0.511, 1.736), (0, 200),
                 [0, 50, 100, 150, 200], ['0', '50', '100', '150', '200'],
                 [25, 75, 125, 175], E3_CTRL, E3_EIPA, E3_BAR, E3_SEM, 112.7, E3_BAR,
                 ['106', '56'], [BLACK, GREEN], tick_fs=19)
sig(axE3, '*', 1029.3, 1018)
panel(1631, 976, 'E3')
ftext(1651, 1175, 'FR [%]', rotation=90, fontsize=LABEL_FS)

# ============================ ROW F ============================
axF1 = add_ax(151.5, 607.7, 1508.3, 1803.3, tick_fs=19)
axF1.set_xlim(0, 25)
axF1.set_ylim(0, 2.5)
for (sl, ic, x0), col in ((F1_CTRL_LINE, BLACK), (F1_EIPA_LINE, GREEN)):
    xe = -ic / sl
    axF1.plot([x0, xe], [sl * x0 + ic, 0], color=col, lw=2.4, zorder=2)
axF1.plot(F1_CTRL_FIT_X, F1_CTRL_FIT_Y, 'o', ms=10.5, color=BLACK, ls='none', zorder=3)
axF1.plot(F1_CTRL_X, F1_CTRL_Y, 'o', ms=9.5, mfc='white', mec=BLACK, mew=2.3, ls='none',
          zorder=3)
axF1.plot(F1_EIPA_FIT_X, F1_EIPA_FIT_Y, 'o', ms=10.5, color=GREEN, ls='none', zorder=3)
axF1.plot(F1_EIPA_X, F1_EIPA_Y, 'o', ms=9.5, mfc='white', mec=GREEN, mew=2.3, ls='none',
          zorder=3)
axF1.set_xticks([0, 5, 10, 15, 20, 25])
axF1.set_xticks([2.5, 7.5, 12.5, 17.5, 22.5], minor=True)
set_yticks(axF1, [0, 0.5, 1.0, 1.5, 2.0, 2.5], ['0', '0.5', '1.0', '1.5', '2.0', '2.5'])
panel(3, 1435, 'F1')
ftext(165, 1508, 'n = 8', ha='left', fontsize=18)
ftext(231, 1508, '8', ha='left', fontsize=18, color=GREEN)
ftext(72.7, 1660, 'Amplitude [nA]', rotation=90, fontsize=LABEL_FS)
ftext(37, 1660, '100 Hz', rotation=90, fontsize=36)
ftext(378.7, 1858, 'Cumulative amplitude [nA]', fontsize=21)

axF2 = bar_panel((769.5, 893.6, 1507.3, 1803.3), (-0.386, 1.89), (0, 50),
                 [0, 10, 20, 30, 40, 50], ['0', '10', '20', '30', '40', '50'], None,
                 F2_CTRL, F2_EIPA[:len(F2_CTRL)], F2_BAR, F2_SEM, 36, F2_BAR,
                 ['930', '254'], [BLACK, GREEN])
axF2.plot(np.full(len(F2_EIPA) - len(F2_CTRL), 1.5), F2_EIPA[len(F2_CTRL):], 'o', ms=8.5,
          mfc='white', mec=GREEN, mew=2.3, ls='none', zorder=4, clip_on=False)
sig(axF2, '**', 1449, 1443)
panel(672.5, 1435, 'F2')
ftext(687.7, 1657, r'I$_{\mathrm{RRP}}$ [nA]', rotation=90, fontsize=LABEL_FS)
ftext(974, 1657, r'N$_{\mathrm{RRP}}$ [SV]', rotation=270, fontsize=LABEL_FS)

axF3 = bar_panel((1139.4, 1265.7, 1507.3, 1803.3), (-0.46, 1.90), (0, 60),
                 [0, 20, 40, 60], ['0', '20', '40', '60'], [10, 30, 50],
                 F3_CTRL, F3_EIPA, F3_BAR, F3_SEM, 49.7, [F3_BAR[1], F3_BAR[0]],
                 ['32', '27'], [GREEN, BLACK])
sig(axF3, 'n.s.', 1449, 1432, fs=18)
panel(1056, 1435, 'F3')
ftext(1078, 1640, 'q [pA]', rotation=90, fontsize=LABEL_FS)

axF4 = bar_panel((1447.9, 1578.4, 1507.3, 1803.3), (-0.54, 1.90), (0, 150),
                 [0, 50, 100, 150], ['0', '50', '100', '150'], [25, 75, 125],
                 F4_CTRL, F4_EIPA, F4_BAR, F4_SEM, 79.4, F4_BAR, ['67', '24'],
                 [BLACK, GREEN], tick_fs=19)
sig(axF4, '***', 1449, 1443)
panel(1356.8, 1435, 'F4')
ftext(1375, 1640, 'm [SV]', rotation=90, fontsize=LABEL_FS)

axF5 = bar_panel((1735, 1857.7, 1507.3, 1803.3), (-0.41, 1.84), (0, 30),
                 [0, 10, 20, 30], ['0', '10', '20', '30'], [5, 15, 25],
                 F5_CTRL, F5_EIPA, F5_BAR, F5_SEM, 15.2, [F5_BAR[1], F5_BAR[0]],
                 ['12', '11'], [GREEN, BLACK], right_dy=(7, -10))
sig(axF5, 'n.s.', 1449, 1432, fs=18)
panel(1651, 1435, 'F5')
ftext(1669.5, 1640, r'P$_{\mathrm{v}}$ [%]', rotation=90, fontsize=LABEL_FS)

fig.savefig('out.png', dpi=DPI)
